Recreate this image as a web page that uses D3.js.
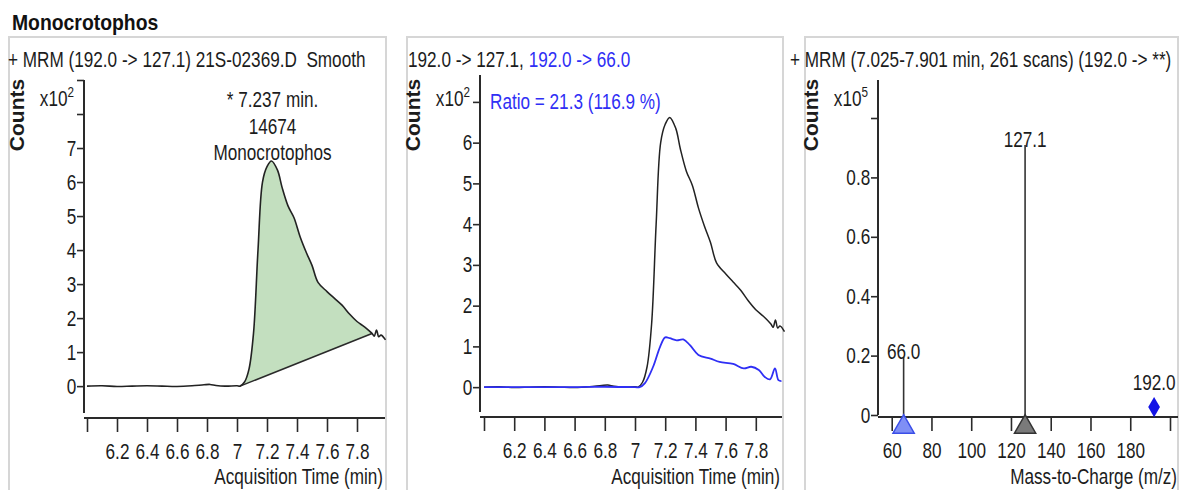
<html>
<head>
<script src="https://d3js.org/d3.v7.min.js"></script>
<style>
  body { margin: 0; background: #fff; }
  text { font-family: "Liberation Sans", Arial, sans-serif; white-space: pre; }
</style>
</head>
<body>
<div id="chart"></div>
<script>

// ---- data ----
var compound = "Monocrotophos";

// quantifier transition 192.0 -> 127.1 (counts x10^2)
var quantTime   = [6.00, 6.10, 6.20, 6.30, 6.40, 6.50, 6.60, 6.70, 6.78, 6.82, 6.86, 6.92, 7.00, 7.02, 7.05, 7.08, 7.11, 7.14, 7.17, 7.20, 7.23, 7.27, 7.30, 7.34, 7.38, 7.42, 7.46, 7.50, 7.54, 7.60, 7.65, 7.70, 7.75, 7.80, 7.85, 7.90, 7.915, 7.93, 7.945, 7.96, 7.99];
var quantCounts = [0.00, 0.01, -0.01, 0.00, 0.01, 0.00, -0.01, 0.01, 0.04, 0.05, 0.02, 0.00, 0.01, 0.00, 0.12, 0.50, 1.55, 4.00, 6.00, 6.45, 6.62, 6.35, 5.85, 5.30, 4.95, 4.40, 3.95, 3.55, 3.05, 2.78, 2.58, 2.38, 2.12, 1.90, 1.74, 1.55, 1.47, 1.65, 1.45, 1.50, 1.36];

// qualifier transition 192.0 -> 66.0 (counts x10^2)
var qualTime   = [6.00, 6.20, 6.40, 6.60, 6.80, 7.00, 7.03, 7.066, 7.12, 7.166, 7.20, 7.23, 7.276, 7.32, 7.364, 7.42, 7.50, 7.56, 7.65, 7.72, 7.77, 7.82, 7.86, 7.894, 7.927, 7.95, 7.97];
var qualCounts = [0.00, 0.00, 0.00, 0.00, 0.01, 0.00, 0.00, 0.10, 0.50, 0.99, 1.22, 1.20, 1.15, 1.17, 1.03, 0.79, 0.70, 0.62, 0.57, 0.46, 0.50, 0.42, 0.25, 0.19, 0.46, 0.17, 0.15];

// integration baseline (time, counts x10^2)
var baselineTime   = [7.02, 7.90];
var baselineCounts = [0.00, 1.55];

var apexTime = 7.237;
var apexArea = "14674";
var ratioText = "Ratio = 21.3 (116.9 %)";

// spectrum (counts x10^5)
var ionMz     = [66.0, 127.1, 192.0];
var ionAbund  = [0.195, 0.909, 0.03];
var ionLabels = ["66.0", "127.1", "192.0"];
var ionRole   = ["qualifier", "quantifier", "precursor"];

// ticks
var timeTicks      = [6.0, 6.2, 6.4, 6.6, 6.8, 7.0, 7.2, 7.4, 7.6, 7.8];
var timeTickLabels = ["", "6.2", "6.4", "6.6", "6.8", "7", "7.2", "7.4", "7.6", "7.8"];
var counts1Ticks   = [0, 1, 2, 3, 4, 5, 6, 7, 8, 9];
var counts1Labels  = ["0", "1", "2", "3", "4", "5", "6", "7", "", ""];
var counts2Ticks   = [0, 1, 2, 3, 4, 5, 6, 7];
var counts2Labels  = ["0", "1", "2", "3", "4", "5", "6", ""];
var mzTicks        = [60, 80, 100, 120, 140, 160, 180, 200];
var mzTickLabels   = ["60", "80", "100", "120", "140", "160", "180", ""];
var abundTicks     = [0, 0.2, 0.4, 0.6, 0.8, 1.0];
var abundLabels    = ["0", "0.2", "0.4", "0.6", "0.8", ""];

// ---- drawing ----
var INK = '#1c1c1c', BLUE = '#2f2ff5', SQ = 0.78, FS = 22;

var svg = d3.select('#chart').append('svg')
  .attr('width', 1181).attr('height', 490).style('display', 'block');
svg.append('rect').attr('width', 1181).attr('height', 490).attr('fill', '#fff');

function label(g, x, y, str, size, anchor, color) {
  return g.append('text')
    .attr('transform', 'translate(' + x + ',' + y + ') scale(' + SQ + ',1)')
    .attr('text-anchor', anchor || 'start')
    .style('font-size', size + 'px')
    .attr('fill', color || INK)
    .text(str);
}

function yAxis(x, y, ticks, labels) {
  var ax = d3.axisLeft(y).tickValues(ticks)
    .tickFormat(function(d, i) { return labels[i]; })
    .tickSize(7).tickPadding(3);
  var a = svg.append('g').attr('transform', 'translate(' + x + ',0)').call(ax);
  a.select('.domain').remove();
  a.selectAll('line').attr('stroke', '#2a2a2a').attr('stroke-width', 1.6);
  a.selectAll('text').attr('transform', 'scale(' + SQ + ',1)')
    .style('font-size', FS + 'px').attr('fill', INK);
  var r = y.range();
  a.append('line').attr('y1', r[0]).attr('y2', r[1])
    .attr('stroke', '#2a2a2a').attr('stroke-width', 2);
}

function xAxis(yPos, x, x0, x1, ticks, labels) {
  var ax = d3.axisBottom(x).tickValues(ticks)
    .tickFormat(function(d, i) { return labels[i]; })
    .tickSize(14).tickPadding(11);
  var a = svg.append('g').attr('transform', 'translate(0,' + yPos + ')').call(ax);
  a.select('.domain').remove();
  a.selectAll('line').attr('stroke', '#2a2a2a').attr('stroke-width', 1.6);
  a.selectAll('text').attr('transform', 'scale(' + SQ + ',1)')
    .style('font-size', FS + 'px').attr('fill', INK);
  a.append('line').attr('x1', x0).attr('x2', x1)
    .attr('stroke', '#2a2a2a').attr('stroke-width', 2);
}

function countsLabels(axisX, exp) {
  svg.append('text')
    .attr('transform', 'translate(' + (axisX - 60) + ',115) rotate(-90)')
    .attr('text-anchor', 'middle')
    .style('font-size', '21px').style('font-weight', 'bold')
    .attr('fill', INK).text('Counts');
  var t = label(svg, axisX - 10, 106, '', FS, 'end');
  t.append('tspan').text('x10');
  t.append('tspan').attr('dy', -9).style('font-size', '15px').text(exp);
}

// panel frames
[[9, 377], [407, 376], [805, 373]].forEach(function(p) {
  svg.append('rect').attr('x', p[0]).attr('y', 37).attr('width', p[1]).attr('height', 480)
    .attr('fill', 'none').attr('stroke', '#d6d6d6').attr('stroke-width', 2);
});

// title
svg.append('text').attr('transform', 'translate(12,30) scale(0.88,1)')
  .style('font-size', '22px').style('font-weight', 'bold').attr('fill', '#111')
  .text(compound);

// ---------- panel 1 : integrated peak ----------
var xs1 = d3.scaleLinear().domain([6, 8]).range([87, 387]);
var ys1 = d3.scaleLinear().domain([-0.79, 9]).range([413, 80]);

label(svg, 8, 67, '+ MRM (192.0 -> 127.1) 21S-02369.D  Smooth', FS);
yAxis(84, ys1, counts1Ticks, counts1Labels);
xAxis(418, xs1, 84, 385, timeTicks, timeTickLabels);
countsLabels(84, '2');
label(svg, 383, 484, 'Acquisition Time (min)', FS, 'end');

var baseAt = d3.scaleLinear().domain(baselineTime).range(baselineCounts);
var peakIdx = d3.range(quantTime.length).filter(function(i) {
  return quantTime[i] >= baselineTime[0] && quantTime[i] <= baselineTime[1];
});
var idx = d3.range(quantTime.length);

svg.append('path').datum(peakIdx)
  .attr('d', d3.area()
    .x(function(i) { return xs1(quantTime[i]); })
    .y0(function(i) { return ys1(baseAt(quantTime[i])); })
    .y1(function(i) { return ys1(quantCounts[i]); })
    .curve(d3.curveCatmullRom))
  .attr('fill', '#c3dfbf');

svg.append('line')
  .attr('x1', xs1(baselineTime[0])).attr('y1', ys1(baselineCounts[0]))
  .attr('x2', xs1(baselineTime[1])).attr('y2', ys1(baselineCounts[1]))
  .attr('stroke', '#2a2a2a').attr('stroke-width', 1.6);

svg.append('path').datum(idx)
  .attr('d', d3.line()
    .x(function(i) { return xs1(quantTime[i]); })
    .y(function(i) { return ys1(quantCounts[i]); })
    .curve(d3.curveCatmullRom))
  .attr('fill', 'none').attr('stroke', '#222').attr('stroke-width', 1.6);

var apexY = ys1(d3.max(quantCounts));
label(svg, xs1(apexTime), apexY - 54, '* ' + apexTime + ' min.', FS, 'middle');
label(svg, xs1(apexTime), apexY - 27, apexArea, FS, 'middle');
label(svg, xs1(apexTime), apexY - 1, compound, FS, 'middle');

// ---------- panel 2 : overlay of transitions ----------
var xs2 = d3.scaleLinear().domain([6, 8]).range([484, 786]);
var ys2 = d3.scaleLinear().domain([-0.61, 7.66]).range([412, 75]);

var h2 = label(svg, 408, 67, '', FS);
h2.append('tspan').text('192.0 -> 127.1, ');
h2.append('tspan').attr('fill', BLUE).text('192.0 -> 66.0');
yAxis(480, ys2, counts2Ticks, counts2Labels);
xAxis(417, xs2, 480, 782, timeTicks, timeTickLabels);
countsLabels(480, '2');
label(svg, 780, 484, 'Acquisition Time (min)', FS, 'end');
label(svg, 490, 109, ratioText, FS, 'start', BLUE);

svg.append('path').datum(idx)
  .attr('d', d3.line()
    .x(function(i) { return xs2(quantTime[i]); })
    .y(function(i) { return ys2(quantCounts[i]); })
    .curve(d3.curveCatmullRom))
  .attr('fill', 'none').attr('stroke', '#222').attr('stroke-width', 1.5);

svg.append('path').datum(d3.range(qualTime.length))
  .attr('d', d3.line()
    .x(function(i) { return xs2(qualTime[i]); })
    .y(function(i) { return ys2(qualCounts[i]); })
    .curve(d3.curveCatmullRom))
  .attr('fill', 'none').attr('stroke', BLUE).attr('stroke-width', 1.8);

// ---------- panel 3 : spectrum ----------
var xs3 = d3.scaleLinear().domain([60, 200]).range([891.7, 1170]);
var ys3 = d3.scaleLinear().domain([0, 1.128]).range([415, 80]);

label(svg, 790, 67, '+ MRM (7.025-7.901 min, 261 scans) (192.0 -> **)', FS);
yAxis(878, ys3, abundTicks, abundLabels);
xAxis(417, xs3, 878, 1178, mzTicks, mzTickLabels);
countsLabels(878, '5');
label(svg, 1177, 484, 'Mass-to-Charge (m/z)', FS, 'end');

var ions = svg.append('g').selectAll('g').data(d3.range(ionMz.length)).enter().append('g');

ions.filter(function(i) { return ionRole[i] !== 'precursor'; })
  .append('line')
  .attr('x1', function(i) { return xs3(ionMz[i]); })
  .attr('x2', function(i) { return xs3(ionMz[i]); })
  .attr('y1', ys3(0))
  .attr('y2', function(i) { return ys3(ionAbund[i]); })
  .attr('stroke', '#333').attr('stroke-width', 1.6);

ions.each(function(i) {
  var g = d3.select(this), x = xs3(ionMz[i]);
  if (ionRole[i] === 'precursor') {
    var y = ys3(ionAbund[i]);
    g.append('path').attr('d', d3.symbol(d3.symbolDiamond, 120)())
      .attr('transform', 'translate(' + x + ',' + (y + 1) + ')')
      .attr('fill', '#1414e6');
    label(g, x, y - 16, ionLabels[i], FS, 'middle');
  } else {
    var q = ionRole[i] === 'qualifier';
    g.append('path').attr('d', d3.symbol(d3.symbolTriangle, 195)())
      .attr('transform', 'translate(' + x + ',' + (ys3(0) + 12) + ')')
      .attr('fill', q ? '#7f8ff5' : '#7a7a7a')
      .attr('stroke', q ? '#3a4ee8' : '#333').attr('stroke-width', 1.5);
    label(g, x, ys3(ionAbund[i]) + 2, ionLabels[i], FS, 'middle');
  }
});

</script>
</body>
</html>
